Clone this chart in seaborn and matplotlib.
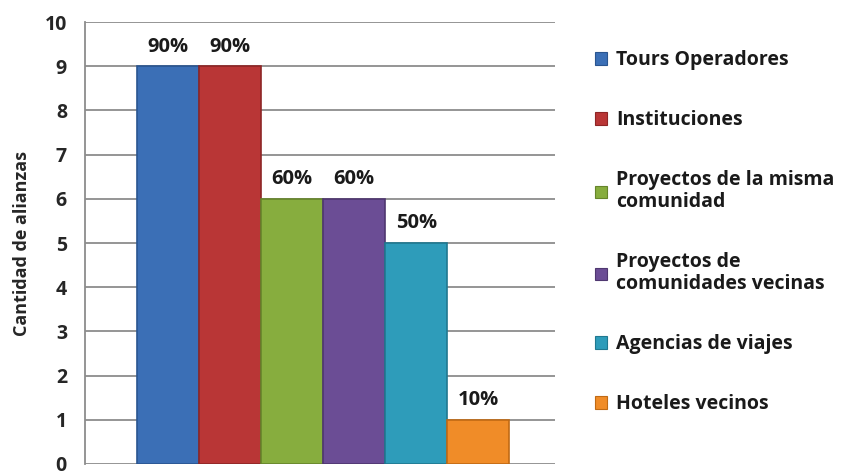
import matplotlib
matplotlib.use("Agg")
import matplotlib.pyplot as plt
import seaborn as sns
import pandas as pd

# data
categories = ["Tours Operadores", "Instituciones", "Proyectos de la misma\ncomunidad",
              "Proyectos de\ncomunidades vecinas", "Agencias de viajes", "Hoteles vecinos"]
values = [9, 9, 6, 6, 5, 1]
pct_labels = ["90%", "90%", "60%", "60%", "50%", "10%"]
colors = ["#3b6fb6", "#b93636", "#87ad3e", "#6b4d95", "#2e9cba", "#f08c28"]
edge_colors = ["#2a5590", "#8e2626", "#66852b", "#4f3770", "#207890", "#c06a14"]

sns.set_style("white")
plt.rcParams["font.family"] = ["Open Sans", "DejaVu Sans"]
plt.rcParams["font.weight"] = "bold"

df = pd.DataFrame({"cat": categories, "val": values})

fig = plt.figure(figsize=(8.53, 4.71), dpi=100)
ax = fig.add_axes([0.0997, 0.0150, 0.551, 0.938])

sns.barplot(data=df, x="cat", y="val", hue="cat", palette=colors, width=1.0,
            legend=False, ax=ax, saturation=1, zorder=3)

for patch, ec in zip(ax.patches, edge_colors):
    patch.set_edgecolor(ec)
    patch.set_linewidth(1.2)

for cont, lab in zip(ax.containers, pct_labels):
    ax.bar_label(cont, labels=[lab], padding=7, fontsize=14.5, fontweight="bold",
                 color="#1a1a1a")

ax.set_ylim(0, 10)
ax.set_xlim(-1.34, 6.24)
ax.set_yticks(range(0, 11))
ax.set_xticks([])
ax.set_xlabel("")
ax.set_ylabel("Cantidad de alianzas", fontsize=13, fontweight="bold", labelpad=10)
ax.grid(axis="y", color="#8c8c8c", linewidth=1.3, zorder=0)
ax.tick_params(axis="y", length=5, width=1.2, color="#8c8c8c", labelsize=14, pad=8)
for lbl in ax.get_yticklabels():
    lbl.set_fontweight("bold")
for side in ["top", "right", "bottom"]:
    ax.spines[side].set_visible(False)
ax.spines["left"].set_color("#8c8c8c")
ax.spines["left"].set_linewidth(1.3)

handles = [plt.Rectangle((0, 0), 1, 1, facecolor=c, edgecolor=e, linewidth=0.8)
           for c, e in zip(colors, edge_colors)]
leg = fig.legend(handles, categories, loc="upper left", bbox_to_anchor=(0.698, 0.893),
                 frameon=False, fontsize=14, labelspacing=2.05, handlelength=0.6,
                 handleheight=0.6, handletextpad=0.45, borderpad=0, borderaxespad=0)
for t in leg.get_texts():
    t.set_fontweight("bold")
    t.set_color("#1a1a1a")
    t.set_linespacing(1.15)

fig.savefig("out.png", dpi=100)
